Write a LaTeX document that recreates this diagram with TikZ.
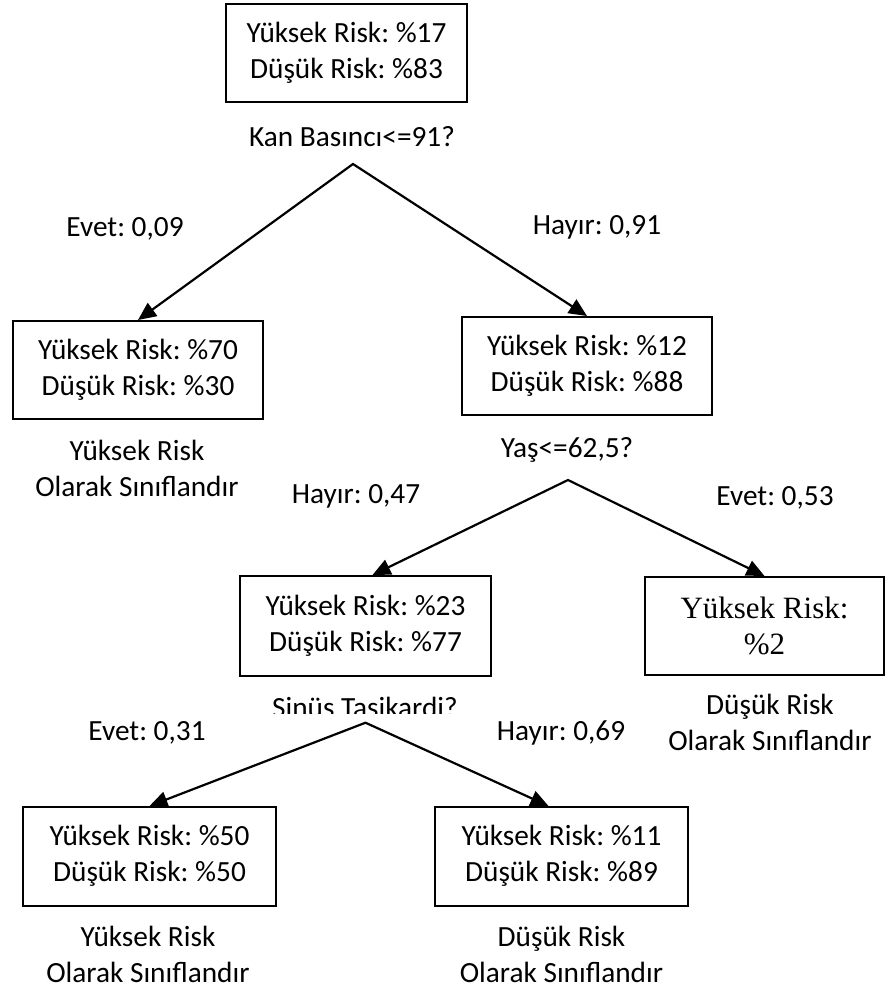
\documentclass[tikz,border=0pt]{standalone}
\usepackage{fontspec}
\setmainfont{Carlito}
\newfontfamily\timesface{Liberation Serif}
\usetikzlibrary{arrows.meta}

% text sizes
\newcommand\lbl{\fontsize{29.3}{36}\selectfont}
\newcommand\tms{\timesface\fontsize{31}{36}\selectfont}
% struts that fix the first-line height and last-line depth
\newcommand\hs{\rule{0pt}{22pt}}
\newcommand\ds{\rule[-8pt]{0pt}{8pt}}

\tikzset{
  riskbox/.style={draw, line width=2pt, inner sep=0pt, align=center, font=\lbl,
                  minimum width=250pt, minimum height=98pt},
  caption/.style={inner sep=0pt, font=\lbl, anchor=base},
  caption2/.style={inner sep=0pt, font=\lbl, align=center},
  branch/.style={line width=2.2pt, line join=miter,
                 {Triangle[length=18pt,width=16pt]}-{Triangle[length=18pt,width=16pt]}},
}

\begin{document}
\frenchspacing
\begin{tikzpicture}[x=1pt,y=-1pt]
\useasboundingbox (0,0) rectangle (889,989);

% root
\node[riskbox, minimum width=241pt] (root) at (346.5,53)
  {\hs Yüksek Risk: \%17\\Düşük Risk: \%83\ds};
\node[caption] (q1) at (352,146) {Kan Basıncı<=91?};
\coordinate (s1) at (353,164);

% first split
\node[caption] (e1) at (125,236) {Evet: 0,09};
\node[caption] (h1) at (597,234) {Hayır: 0,91};
\node[riskbox] (lb) at (138,370) {\hs Yüksek Risk: \%70\\Düşük Risk: \%30\ds};
\node[riskbox] (rb) at (587,366) {\hs Yüksek Risk: \%12\\Düşük Risk: \%88\ds};
\node[caption2] (lbc) at (137,471) {\hs Yüksek Risk\\Olarak Sınıflandır\ds};
\node[caption] (q2) at (567,457) {Yaş<=62,5?};
\coordinate (s2) at (568,480);

% second split
\node[caption] (h2) at (356,503) {Hayır: 0,47};
\node[caption] (e2) at (775,505) {Evet: 0,53};
\node[riskbox, minimum width=251pt, minimum height=100pt] (mb) at (365.5,626)
  {\hs Yüksek Risk: \%23\\Düşük Risk: \%77\ds};
\node[riskbox, minimum width=239pt, font=\tms] (tb) at (764.5,626)
  {Yüksek Risk:\\\%2};
\node[caption2] (tbc) at (770,725) {\hs Düşük Risk\\Olarak Sınıflandır\ds};
\begin{scope}
  \clip (240,680) rectangle (500,713);
  \node[caption] (q3) at (365,717) {Sinüs Tasikardi?};
\end{scope}
\coordinate (s3) at (365.5,722.7);

% third split
\node[caption] (e3) at (147,740) {Evet: 0,31};
\node[caption] (h3) at (561,740) {Hayır: 0,69};
\node[riskbox, minimum width=253pt, minimum height=99pt] (bl) at (149.5,856.5)
  {\hs Yüksek Risk: \%50\\Düşük Risk: \%50\ds};
\node[riskbox, minimum width=253pt, minimum height=99pt] (br) at (561.5,856.5)
  {\hs Yüksek Risk: \%11\\Düşük Risk: \%89\ds};
\node[caption2] (blc) at (148,957) {\hs Yüksek Risk\\Olarak Sınıflandır\ds};
\node[caption2] (brc) at (561.5,957) {\hs Düşük Risk\\Olarak Sınıflandır\ds};

% branches
\draw[branch] (lb.north) -- (s1) -- (rb.north);
\draw[branch] ([xshift=7pt]mb.north) -- (s2) -- (tb.north);
\draw[branch] (bl.north) -- (s3) -- ([xshift=-13pt]br.north);
\end{tikzpicture}
\end{document}
